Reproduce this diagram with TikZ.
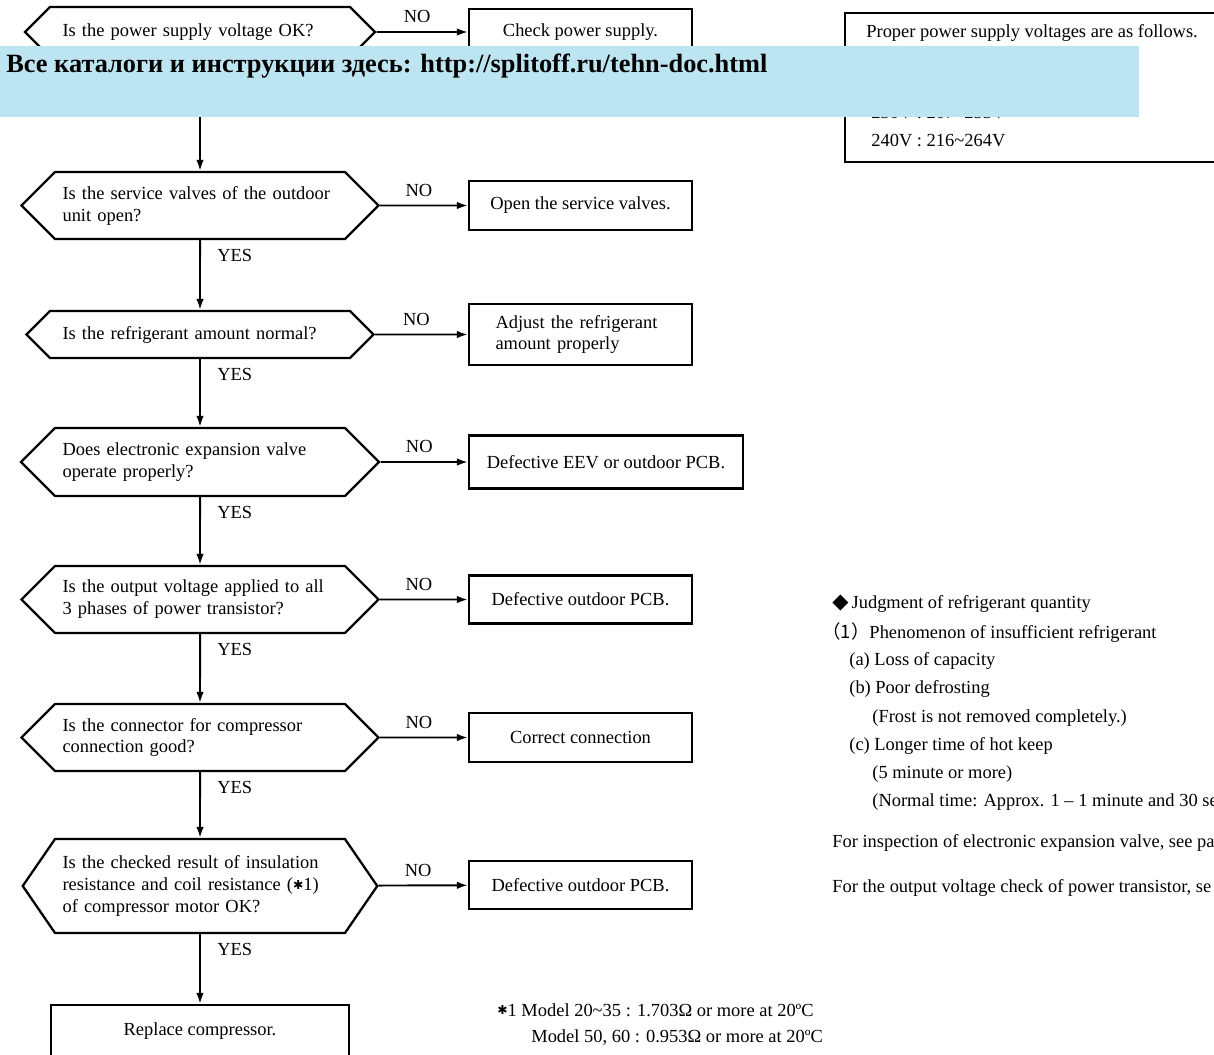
\documentclass[tikz,border=0pt]{standalone}
\usepackage{fontspec}
\setmainfont{Liberation Serif}
\newfontfamily\dejavu{DejaVu Sans}
\newfontfamily\cjk{Noto Sans CJK SC}
\usetikzlibrary{shapes.symbols,arrows.meta}
\definecolor{bannerblue}{RGB}{188,228,241}
\newcommand{\heavyast}{{\dejavu\fontsize{7}{7}\selectfont\raisebox{0.2ex}{✱}}}

\begin{document}
\begin{tikzpicture}[x=0.02cm,y=-0.02cm,font=\fontsize{10.5}{12.5}\selectfont,
  dec/.style={draw,line width=1.3pt,shape=signal,signal to=west and east,
    signal pointer angle=90,text width=5.5cm,align=left,inner xsep=0.15cm,inner ysep=0pt},
  res/.style={draw,line width=1.3pt,minimum width=4.46cm,align=center,inner sep=0pt},
  arr/.style={line width=1.1pt,-{Latex[length=2.2mm,width=1.5mm]}},
  yes/.style={anchor=north west,inner sep=0pt,xshift=0.34cm,yshift=-0.17cm},
  no/.style={above,inner sep=0pt,yshift=0.16cm,xshift=-0.1cm},
  txt/.style={anchor=west,inner sep=0pt}]
\path[use as bounding box] (0,0) rectangle (1214,1055);
\clip (0,0) rectangle (1214,1055);
% questions
\node[dec,minimum height=1.0cm,inner xsep=0.25cm] (d1) at (200,32) {Is the power supply voltage OK?};
\node[dec,minimum height=1.34cm] (d2) at (200,205.5) {Is the service valves of the outdoor\\unit open?};
\node[dec,minimum height=0.94cm,inner xsep=0.25cm] (d3) at (200,334.5) {Is the refrigerant amount normal?};
\node[dec,minimum height=1.36cm] (d4) at (200,462) {Does electronic expansion valve\\operate properly?};
\node[dec,minimum height=1.34cm] (d5) at (200,599.5) {Is the output voltage applied to all\\3 phases of power transistor?};
\node[dec,minimum height=1.34cm] (d6) at (200,737.5) {Is the connector for compressor\\connection good?};
\node[dec,minimum height=1.88cm,signal pointer angle=111] (d7) at (200,886)
  {Is the checked result of insulation\\resistance and coil resistance (\heavyast1)\\of compressor motor OK?};
% remedies
\node[res,minimum height=0.92cm] (b1) at (580.5,32) {Check power supply.};
\node[res,minimum height=0.98cm] (b2) at (580.5,205.5) {Open the service valves.};
\node[res,minimum height=1.22cm,text width=3.4cm,align=left] (b3) at (580.5,334.5) {Adjust the refrigerant\\amount properly};
\node[res,minimum height=1.06cm,minimum width=5.48cm] (b4) at (606,462) {Defective EEV or outdoor PCB.};
\node[res,minimum height=0.96cm] (b5) at (580.5,599.5) {Defective outdoor PCB.};
\node[res,minimum height=0.98cm] (b6) at (580.5,737.5) {Correct connection};
\node[res,minimum height=0.96cm] (b7) at (580.5,885) {Defective outdoor PCB.};
\node[res,minimum height=1.04cm,minimum width=5.96cm] (rc) at (200,1031) {Replace compressor.};
% NO branches
\foreach \i in {1,...,7}{ \draw[arr] (d\i) -- node[no] (n\i) {NO} (b\i); }
% YES branches
\draw[arr] (d1) -- (d2);
\foreach \a/\b in {d2/d3,d3/d4,d4/d5,d5/d6,d6/d7,d7/rc}{
  \draw[arr] (\a) -- (\b);
  \node[yes] (y\a) at (\a.south) {YES};
}
% supply voltages
\node[draw,line width=1.3pt,minimum width=7.9cm,minimum height=2.98cm,inner sep=0pt] (pv) at (1042.5,87.5) {};
\node[txt] (pv1) at (866,33) {Proper power supply voltages are as follows.};
\node[txt] (pv3) at (871,113) {230V : 207\textasciitilde253V};
\node[txt] (pv4) at (871,141) {240V : 216\textasciitilde264V};
% notes
\node[txt] (j0) at (832,604) {{\dejavu\fontsize{12}{12}\selectfont ◆}\,Judgment of refrigerant quantity};
\node[txt] (j1) at (822,633) {{\cjk （1）}Phenomenon of insufficient refrigerant};
\node[txt] (j2) at (849,661) {(a) Loss of capacity};
\node[txt] (j3) at (849,689) {(b) Poor defrosting};
\node[txt] (j4) at (872,718) {(Frost is not removed completely.)};
\node[txt] (j5) at (849,746) {(c) Longer time of hot keep};
\node[txt] (j6) at (872,774) {(5 minute or more)};
\node[txt] (j7) at (872,802) {(Normal time: Approx. 1 -- 1 minute and 30 se};
\node[txt] (r1) at (832,843) {For inspection of electronic expansion valve, see pa};
\node[txt] (r2) at (832,888) {For the output voltage check of power transistor, se};
\node[txt] (f1) at (497,1010) {\heavyast1 Model 20\textasciitilde35 : 1.703Ω or more at 20ºC};
\node[txt] (f2) at (531,1038) {Model 50, 60 : 0.953Ω or more at 20ºC};
% banner on top
\node[fill=bannerblue,inner sep=0pt,minimum width=22.78cm,minimum height=1.42cm,anchor=north west] (ad) at (0,46) {};
\node[txt,font=\fontsize{15}{17}\selectfont\bfseries] (adtxt) at (6,66)
  {Все каталоги и инструкции здесь: http://splitoff.ru/tehn-doc.html};
\end{tikzpicture}
\end{document}
